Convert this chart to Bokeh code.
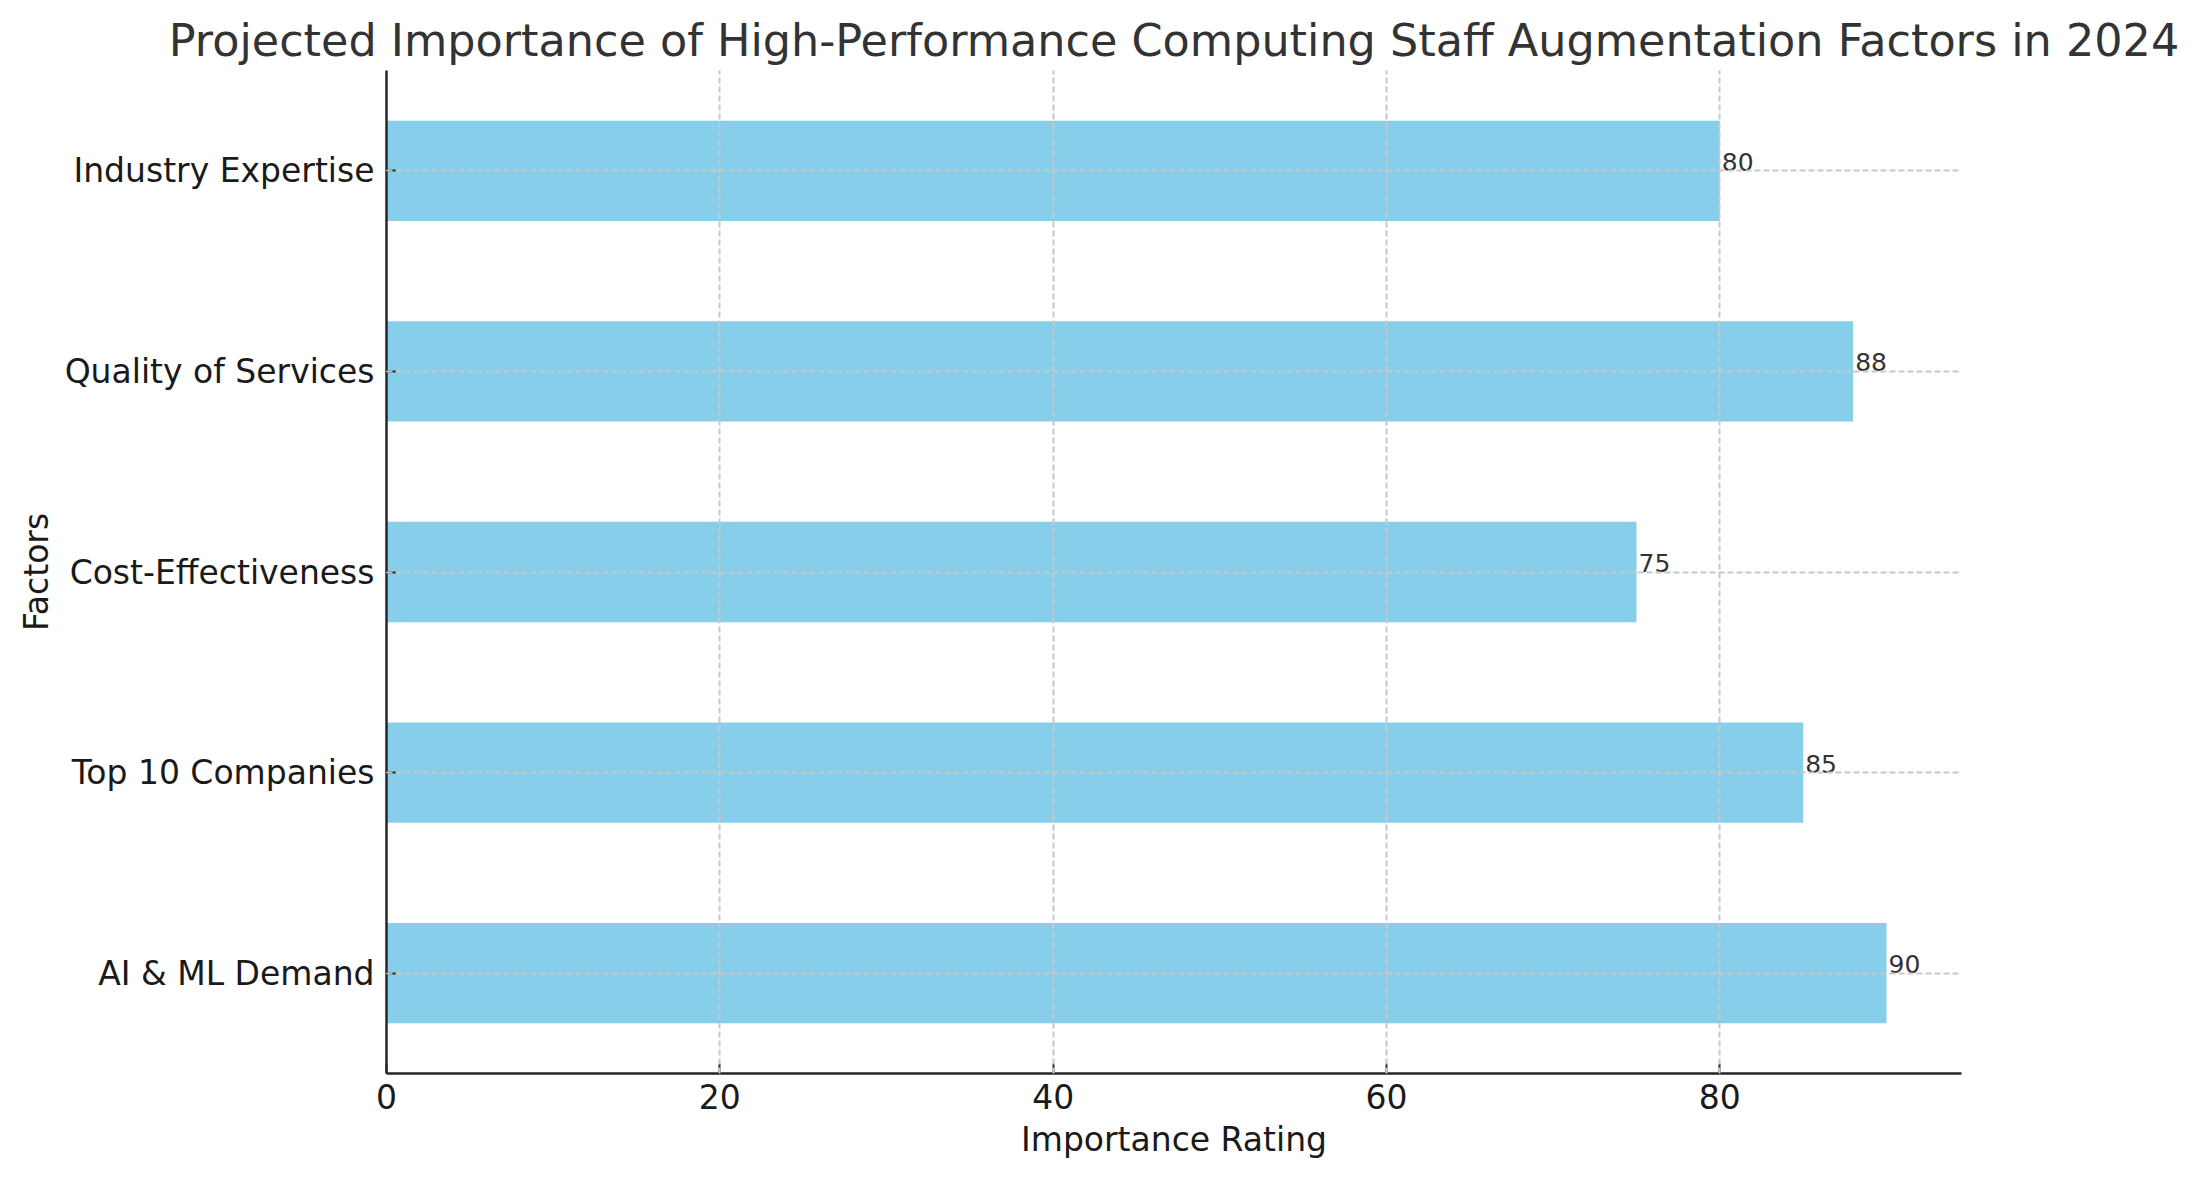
from bokeh.plotting import figure
from bokeh.models import ColumnDataSource, FactorRange, Range1d, FixedTicker
from bokeh.core.properties import value
from bokeh.embed import file_html
from bokeh.resources import INLINE

factors = ["AI & ML Demand", "Top 10 Companies", "Cost-Effectiveness",
           "Quality of Services", "Industry Expertise"]
ratings = [90, 85, 75, 88, 80]
x_ticks = [0, 20, 40, 60, 80]

FONT = "DejaVu Sans"

source = ColumnDataSource(dict(factor=factors, rating=ratings,
                               label=[str(r) for r in ratings]))

p = figure(y_range=FactorRange(*factors), x_range=Range1d(0, 94.5),
           width=2183, height=1164, output_backend="svg", toolbar_location=None,
           title="Projected Importance of High-Performance Computing Staff Augmentation Factors in 2024",
           x_axis_label="Importance Rating", y_axis_label="Factors")
p.min_border_left = 386
p.min_border_right = 222
p.min_border_top = 70
p.min_border_bottom = 91
p.outline_line_color = None

p.hbar(y="factor", right="rating", left=0, height=0.5, source=source,
       fill_color="#87CEEB", line_color=None)
p.text(x="rating", y="factor", text="label", source=source,
       text_font=value(FONT), text_font_size="25px", text_color="#333333",
       text_align="left", text_baseline="bottom", x_offset=2, y_offset=0)

p.title.text_font = FONT
p.title.text_font_size = "44.5px"
p.title.text_font_style = "normal"
p.title.text_color = "#333333"
p.title.align = "center"

p.xaxis.ticker = FixedTicker(ticks=x_ticks)
for ax in (p.xaxis[0], p.yaxis[0]):
    ax.axis_line_color = "#262626"
    ax.axis_line_width = 2.5
    ax.major_tick_line_color = "#262626"
    ax.major_tick_line_width = 2
    ax.major_tick_in = 10
    ax.major_tick_out = 0
    ax.minor_tick_line_color = None
    ax.major_label_text_font = FONT
    ax.major_label_text_font_size = "33px"
    ax.major_label_text_color = "#1a1a1a"
    ax.axis_label_text_font = FONT
    ax.axis_label_text_font_size = "33px"
    ax.axis_label_text_font_style = "normal"
    ax.axis_label_text_color = "#1a1a1a"
p.xaxis.major_label_standoff = 10
p.xaxis.axis_label_standoff = 8
p.yaxis.major_label_standoff = 12
p.yaxis.axis_label_standoff = 6

for g in (p.xgrid[0], p.ygrid[0]):
    g.grid_line_color = "#c8c8c8"
    g.grid_line_width = 2
    g.grid_line_dash = "6 3"
    g.level = "guide"

open("out.html", "w").write(file_html(p, INLINE))
